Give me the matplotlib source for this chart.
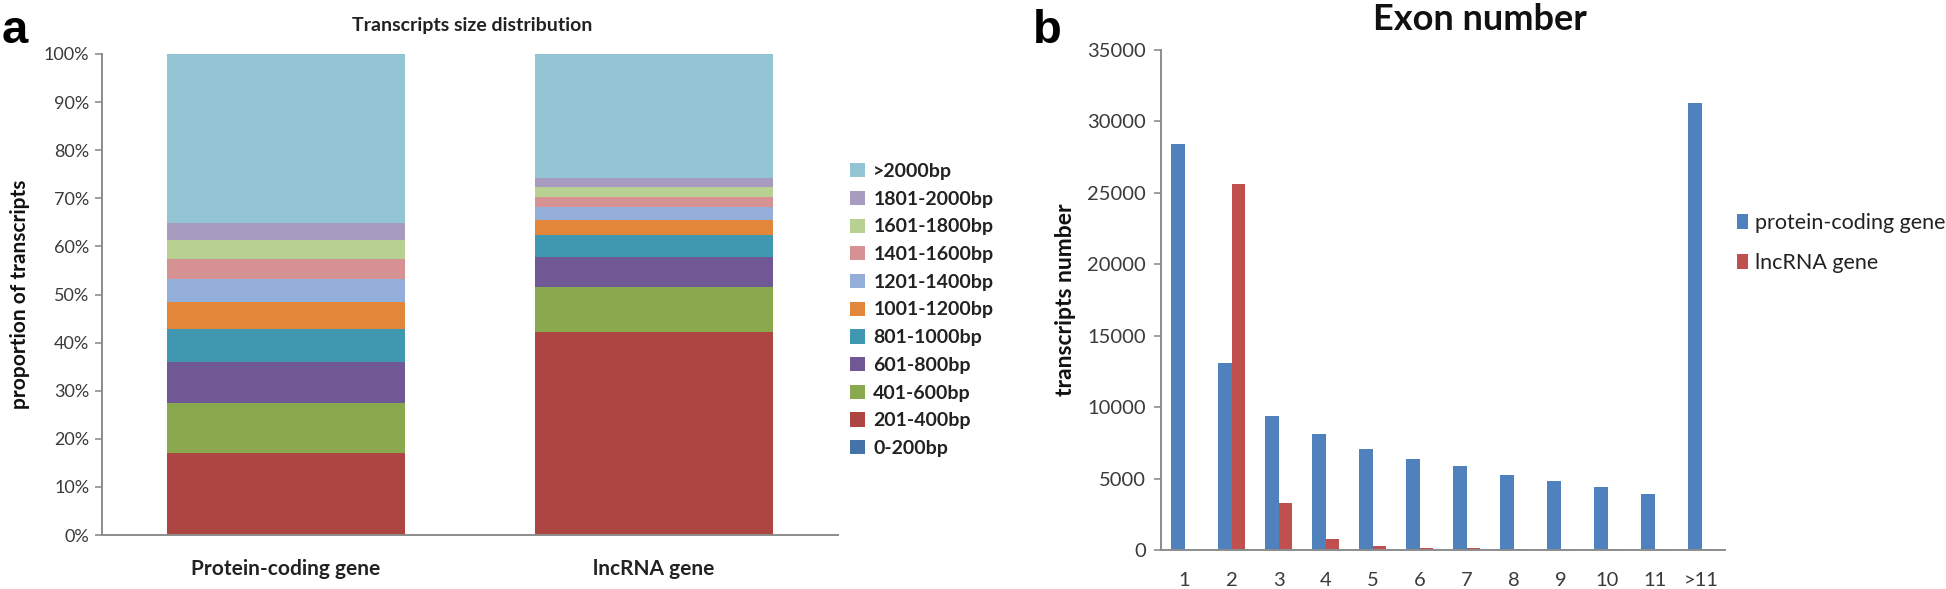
import matplotlib
matplotlib.use("Agg")
import matplotlib.pyplot as plt
import numpy as np

# ---------------- data ----------------
gene_types = ["Protein-coding gene", "lncRNA gene"]
size_bins = ["0-200bp", "201-400bp", "401-600bp", "601-800bp", "801-1000bp",
             "1001-1200bp", "1201-1400bp", "1401-1600bp", "1601-1800bp",
             "1801-2000bp", ">2000bp"]
protein_pct = [0.0, 17.1, 10.4, 8.4, 6.9, 5.6, 4.9, 4.1, 3.9, 3.6, 35.1]
lncrna_pct = [0.0, 42.2, 9.3, 6.3, 4.5, 3.2, 2.7, 2.1, 2.1, 1.8, 25.8]
size_colors = ["#4572A7", "#AD4542", "#8AA94F", "#6F5893", "#3F98B0",
               "#E2873A", "#93AED8", "#D69293", "#B8D193", "#A79BC0", "#93C4D4"]

exon_labels = ["1", "2", "3", "4", "5", "6", "7", "8", "9", "10", "11", ">11"]
exon_protein = [28450, 13100, 9400, 8100, 7100, 6400, 5850, 5250, 4800, 4400, 3900, 31300]
exon_lncrna = [0, 25600, 3300, 750, 300, 120, 110, 100, 100, 100, 90, 100]
series_names = ["protein-coding gene", "lncRNA gene"]
series_colors = ["#4F81BD", "#C0504D"]

# ---------------- figure ----------------
W, H = 1946, 589
fig = plt.figure(figsize=(W / 100, H / 100), dpi=100)

FONT = ["Lato", "DejaVu Sans"]
SPINE = "#8C8C8C"
TXT = "#3A3A3A"

def fx(px):
    return px / W

def fy(py):
    return 1 - py / H

# ---------- panel a ----------
axa = fig.add_axes([fx(102), fy(535), fx(838) - fx(102), fy(54) - fy(535)])
data_a = np.array([protein_pct, lncrna_pct]).T
xa = np.arange(len(gene_types))
bottom = np.zeros(len(gene_types))
handles_a = []
for i, lab in enumerate(size_bins):
    h = axa.bar(xa, data_a[i], 0.647, bottom=bottom, color=size_colors[i],
                label=lab, linewidth=0)
    handles_a.append(h)
    bottom += data_a[i]
axa.set_xlim(-0.5, 1.5)
axa.set_ylim(0, 100)
axa.set_yticks(np.arange(0, 101, 10))
axa.set_yticklabels([f"{v}%" for v in range(0, 101, 10)], fontfamily=FONT,
                    fontsize=13, color=TXT)
axa.set_xticks(xa)
axa.set_xticklabels(gene_types, fontfamily=FONT, fontsize=15,
                    fontweight="bold", color="#222222")
axa.tick_params(axis="x", length=0, pad=17)
axa.tick_params(axis="y", length=5, width=1.2, color=SPINE, pad=4, direction="out")
for s in ["top", "right"]:
    axa.spines[s].set_visible(False)
for s in ["left", "bottom"]:
    axa.spines[s].set_color(SPINE)
    axa.spines[s].set_linewidth(1.4)
axa.set_ylabel("proportion of transcripts", fontfamily=FONT, fontsize=15,
               fontweight="bold", color="#111111", labelpad=10)
fig.text(fx(472), fy(26), "Transcripts size distribution", ha="center", va="center",
         fontfamily=FONT, fontsize=14, fontweight="bold", color="#222222")
leg_a = axa.legend(handles_a[::-1], size_bins[::-1], loc="center left",
                   bbox_to_anchor=(fx(850), fy(310)), bbox_transform=fig.transFigure,
                   frameon=False, borderpad=0, borderaxespad=0,
                   handlelength=0.75, handleheight=0.75, handletextpad=0.45,
                   labelspacing=0.55,
                   prop={"family": FONT, "size": 14, "weight": "bold"})
for t in leg_a.get_texts():
    t.set_color("#222222")

# ---------- panel b ----------
axb = fig.add_axes([fx(1161), fy(550), fx(1725) - fx(1161), fy(50) - fy(550)])
xb = np.arange(len(exon_labels))
bw = 0.29
b1 = axb.bar(xb - bw / 2, exon_protein, bw, color=series_colors[0], linewidth=0,
             label=series_names[0])
b2 = axb.bar(xb + bw / 2, exon_lncrna, bw, color=series_colors[1], linewidth=0,
             label=series_names[1])
axb.set_xlim(-0.5, len(exon_labels) - 0.5)
axb.set_ylim(0, 35000)
axb.set_yticks(np.arange(0, 35001, 5000))
axb.set_yticklabels([str(v) for v in range(0, 35001, 5000)], fontfamily=FONT,
                    fontsize=14.5, color=TXT)
axb.set_xticks(xb)
axb.set_xticklabels(exon_labels, fontfamily=FONT, fontsize=14.5, color=TXT)
axb.tick_params(axis="x", length=0, pad=16)
axb.tick_params(axis="y", length=5, width=1.2, color=SPINE, pad=6, direction="out")
for s in ["top", "right"]:
    axb.spines[s].set_visible(False)
for s in ["left", "bottom"]:
    axb.spines[s].set_color(SPINE)
    axb.spines[s].set_linewidth(1.4)
axb.set_ylabel("transcripts number", fontfamily=FONT, fontsize=16.5,
               fontweight="bold", color="#111111", labelpad=8)
fig.text(fx(1480), fy(19), "Exon number", ha="center", va="center",
         fontfamily=FONT, fontsize=26, fontweight="bold", color="#111111")
leg_b = axb.legend(loc="center left", bbox_to_anchor=(fx(1737), fy(243)),
                   bbox_transform=fig.transFigure, frameon=False, borderpad=0,
                   borderaxespad=0, handlelength=0.5, handleheight=0.7,
                   handletextpad=0.35, labelspacing=0.95,
                   prop={"family": FONT, "size": 15.5})
for t in leg_b.get_texts():
    t.set_color("#222222")

# panel letters
fig.text(fx(2), fy(43), "a", ha="left", va="baseline", fontfamily="Liberation Sans",
         fontsize=34, fontweight="bold", color="black")
fig.text(fx(1033), fy(43), "b", ha="left", va="baseline", fontfamily="Liberation Sans",
         fontsize=34, fontweight="bold", color="black")

fig.savefig("out.png", dpi=100)
